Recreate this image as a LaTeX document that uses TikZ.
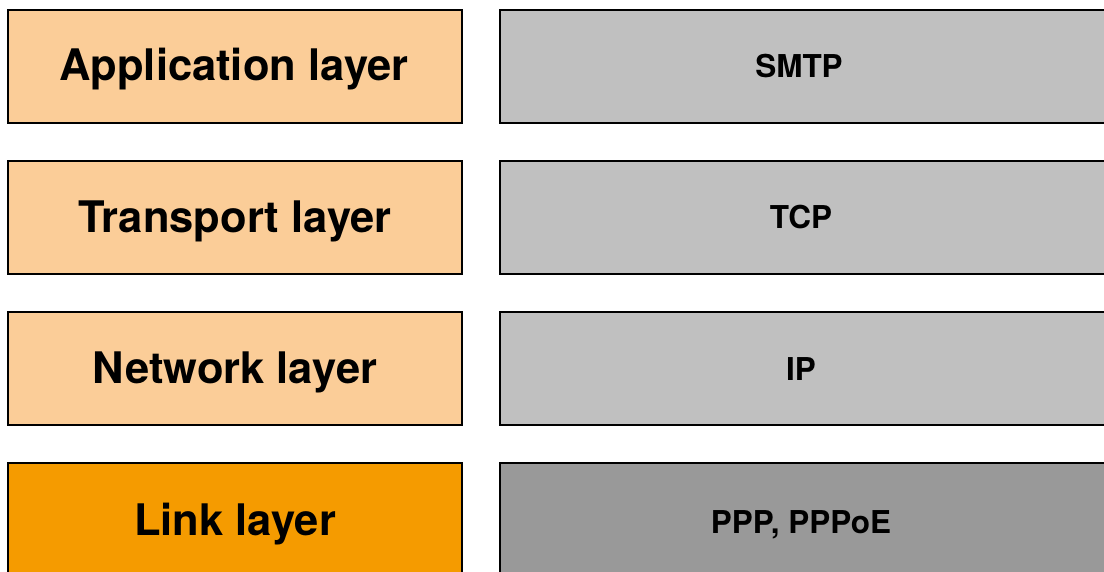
\documentclass[tikz,border=0pt]{standalone}
\usepackage{fontspec}
\setmainfont{TeX Gyre Heros}
\definecolor{lightor}{HTML}{FBCD98}
\definecolor{darkor}{HTML}{F59B00}
\definecolor{lgray}{HTML}{C0C0C0}
\definecolor{dgray}{HTML}{999999}
\begin{document}
\begin{tikzpicture}[x=1pt,y=-1pt,
  layerbox/.style={draw=black,line width=2pt,minimum width=454pt,minimum height=113pt,inner sep=0pt},
  layertext/.style={anchor=base,inner sep=0pt,font=\fontsize{43.5}{48}\selectfont\bfseries},
  protobox/.style={draw=black,line width=2pt,minimum width=612pt,minimum height=113pt,inner sep=0pt},
  prototext/.style={anchor=base,inner sep=0pt,font=\fontsize{31.5}{36}\selectfont\bfseries}]
\useasboundingbox (0,0) rectangle (1104,572);
\begin{scope}
\clip (0,0) rectangle (1104,572);
\node[layerbox,fill=lightor] (app) at (235,66.5) {};
\node[layerbox,fill=lightor] (tra) at (235,217.5) {};
\node[layerbox,fill=lightor] (net) at (235,368.5) {};
\node[layerbox,fill=darkor] (lnk) at (235,519.5) {};
\node[protobox,fill=lgray] (smtpbox) at (806,66.5) {};
\node[protobox,fill=lgray] (tcpbox) at (806,217.5) {};
\node[protobox,fill=lgray] (ipbox) at (806,368.5) {};
\node[protobox,fill=dgray] (pppbox) at (806,519.5) {};
\end{scope}
\node[layertext] (appt) at (234,81) {Application layer};
\node[layertext] (trat) at (235,233) {Transport layer};
\node[layertext] (nett) at (235,383) {Network layer};
\node[layertext] (lnkt) at (235,535) {Link layer};
\node[prototext] (smtp) at (799,78) {SMTP};
\node[prototext] (tcp) at (801,228.5) {TCP};
\node[prototext] (ip) at (801,380) {IP};
\node[prototext] (ppp) at (801,533) {PPP, PPPoE};
\end{tikzpicture}
\end{document}
